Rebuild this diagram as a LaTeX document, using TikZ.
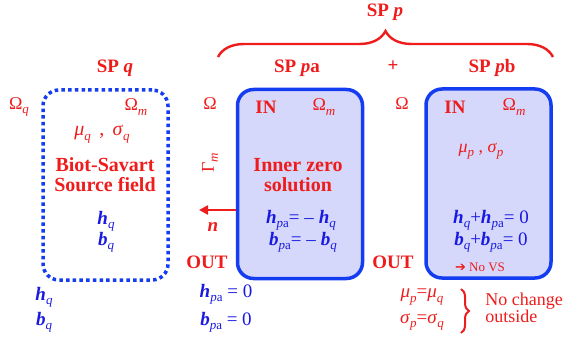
\documentclass[tikz,border=0pt]{standalone}
\usepackage{fontspec}
\setmainfont{Liberation Serif}
\newfontfamily\tms{Liberation Serif}
\newfontfamily\dejavu{DejaVu Sans}
\usetikzlibrary{decorations.pathreplacing,arrows.meta}
\definecolor{myred}{RGB}{238,28,28}
\definecolor{myblue}{RGB}{25,25,225}
\definecolor{edgeblue}{RGB}{20,60,240}
\definecolor{fillblue}{RGB}{213,216,250}
\newcommand\dn[1]{\raisebox{-0.5ex}{\fontsize{13}{13}\selectfont\mdseries\itshape #1}}
\newcommand\bhv{\textbf{\textit{h}}}
\newcommand\bbv{\textbf{\textit{b}}}
\begin{document}
\begin{tikzpicture}[x=1pt,y=-1pt,
  every node/.style={inner sep=0pt},
  rlab/.style={text=myred,font=\tms\fontsize{19}{21}\selectfont\bfseries},
  rsym/.style={text=myred,font=\tms\fontsize{18}{20}\selectfont},
  bexp/.style={text=myblue,font=\tms\fontsize{19}{21}\selectfont},
  solidbox/.style={draw=edgeblue,fill=fillblue,line width=3.5pt,rounded corners=16pt,minimum width=125pt,minimum height=189pt},
  dotbox/.style={draw=edgeblue,line width=3.5pt,dash pattern=on 3.5pt off 3.2pt,rounded corners=16pt,minimum width=125pt,minimum height=190pt},
  redline/.style={draw=myred,line width=2.4pt}]
\useasboundingbox (0,0) rectangle (565,342);

% boxes
\node[dotbox] (boxq) at (105.5,185) {};
\node[solidbox] (boxpa) at (300,184) {};
\node[solidbox] (boxpb) at (488.5,183.5) {};

% headings
\node[rlab] (spp) at (385,12) {SP \textit{p}};
\node[rlab] (spq) at (115,68) {SP \textit{q}};
\node[rlab] (sppa) at (297,68) {SP \textit{p}a};
\node[rlab] (plus) at (393,66) {+};
\node[rlab] (sppb) at (492,68) {SP \textit{p}b};
\coordinate (bl) at (218,57);
\coordinate (br) at (553,57);
\draw[redline,decorate,decoration={brace,amplitude=26pt,aspect=0.5}] (bl) -- (br);

% left SP q
\node[rsym] (omq) at (19,107) {Ω\dn{q}};
\node[rsym] (omm1) at (136,107) {Ω\dn{m}};
\node[rsym,font=\tms\fontsize{20}{20}\selectfont] (musq) at (102,134) {\textit{μ}\dn{q}\, , \,\textit{σ}\dn{q}};
\node[rlab,align=center,font=\tms\fontsize{20}{20}\selectfont\bfseries] (bs) at (105,175) {Biot-Savart\\Source field};
\node[bexp] (hq1) at (106,221) {\bhv\dn{q}};
\node[bexp] (bq1) at (106,242) {\bbv\dn{q}};
\node[bexp] (hq2) at (44,297) {\bhv\dn{q}};
\node[bexp] (bq2) at (44,322) {\bbv\dn{q}};

% middle SP pa
\node[rsym] (om2) at (210,104) {Ω};
\node[rlab] (in1) at (266,107) {IN};
\node[rsym] (omm2) at (324,107) {Ω\dn{m}};
\node[rsym,rotate=90] (gam) at (210,163) {Γ\dn{m}};
\node[rlab,align=center,font=\tms\fontsize{20}{20}\selectfont\bfseries] (izs) at (298,175) {Inner zero\\solution};
\coordinate (ntip) at (199,210);
\draw[redline,-{Triangle[length=9pt,width=9pt]}] (boxpa.west |- ntip) -- (ntip);
\node[rlab,font=\tms\fontsize{19}{21}\selectfont\bfseries\itshape] (nlab) at (213,227) {n};
\node[bexp] (hpa) at (301,220) {\bhv\dn{p\upshape a}= – \bhv\dn{q}};
\node[bexp] (bpa) at (303,242) {\bbv\dn{p\upshape a}= – \bbv\dn{q}};
\node[rlab] (out1) at (207,262) {OUT};
\node[bexp] (hpa0) at (226,294) {\bhv\dn{p\upshape a} = 0};
\node[bexp] (bpa0) at (226,322) {\bbv\dn{p\upshape a} = 0};

% right SP pb
\node[rsym] (om3) at (402,104) {Ω};
\node[rlab] (in2) at (455,107) {IN};
\node[rsym] (omm3) at (514,107) {Ω\dn{m}};
\node[rsym] (musp) at (481,151) {\textit{μ}\dn{p} , \textit{σ}\dn{p}};
\node[bexp] (hsum) at (491,220) {\bhv\dn{q}+\bhv\dn{p\upshape a}= 0};
\node[bexp] (bsum) at (491,242) {\bbv\dn{q}+\bbv\dn{p\upshape a}= 0};
\node[text=myred,font=\tms\fontsize{13}{13}\selectfont] (novs) at (480,267) {{\dejavu\bfseries ➔} No VS};
\node[rlab] (out2) at (393,262) {OUT};
\node[rsym,font=\tms\fontsize{19}{20}\selectfont] (mueq) at (422,297) {\textit{μ}\dn{p}=\textit{μ}\dn{q}};
\node[rsym,font=\tms\fontsize{19}{20}\selectfont] (sgeq) at (422,322) {\textit{σ}\dn{p}=\textit{σ}\dn{q}};
\coordinate (sbt) at (461,289);
\coordinate (sbb) at (461,333);
\draw[redline,line width=2pt,decorate,decoration={brace,amplitude=8pt,aspect=0.5}] (sbt) -- (sbb);
\node[rsym,align=left,font=\tms\fontsize{18}{14}\selectfont] (noch) at (524,308) {No change\\outside};
\end{tikzpicture}
\end{document}
